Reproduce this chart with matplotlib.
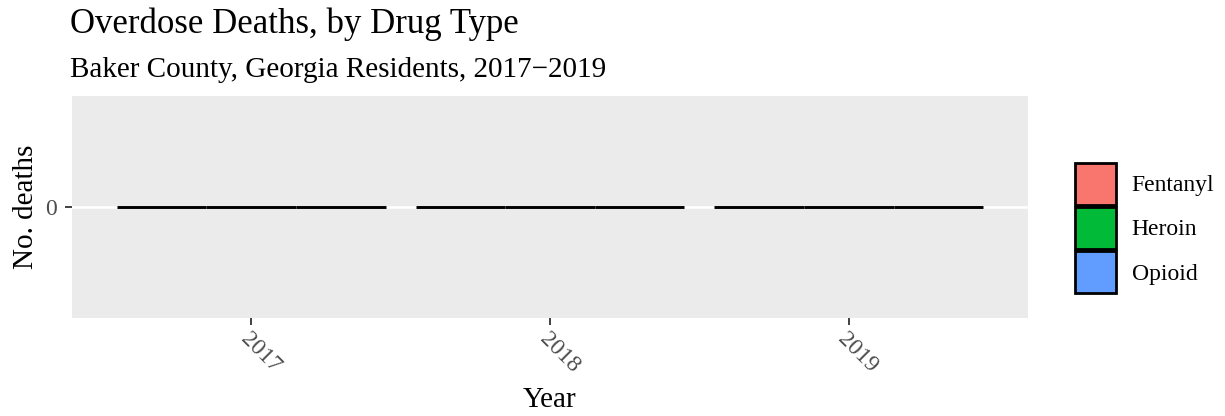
import numpy as np
import matplotlib.pyplot as plt
from matplotlib.patches import Patch, Rectangle
from matplotlib.legend_handler import HandlerPatch

years = ['2017', '2018', '2019']
drugs = ['Fentanyl', 'Heroin', 'Opioid']
colors = ['#F8766D', '#00BA38', '#619CFF']
deaths = {
    'Fentanyl': [0, 0, 0],
    'Heroin': [0, 0, 0],
    'Opioid': [0, 0, 0],
}

plt.rcParams['font.family'] = ['Liberation Serif', 'DejaVu Serif']

fig = plt.figure(figsize=(12.25, 4.16), dpi=100)
ax = fig.add_axes([72 / 1225, 98 / 416, 956 / 1225, 222 / 416])
ax.set_facecolor('#EBEBEB')

x = np.arange(1, len(years) + 1)
w = 0.3
for i, d in enumerate(drugs):
    ax.bar(x + (i - 1) * w, deaths[d], width=w, color=colors[i],
           edgecolor='black', linewidth=2.1, zorder=3)

ax.set_xlim(0.4, 3.6)
ax.set_ylim(-0.05, 0.05)
ax.set_xticks(x)
ax.set_xticklabels(years, rotation=-45, ha='left', va='top', rotation_mode='anchor',
                   fontsize=17, color='#4D4D4D')
ax.set_yticks([0])
ax.set_yticklabels(['0'], fontsize=17, color='#4D4D4D')
ax.yaxis.grid(True, color='white', linewidth=1.8, zorder=1)
ax.set_axisbelow(True)
for s in ax.spines.values():
    s.set_visible(False)
ax.tick_params(axis='both', color='#333333', length=5, width=1.3)
ax.tick_params(axis='x', pad=3)
ax.tick_params(axis='y', pad=6)

ax.set_xlabel('Year', fontsize=21, labelpad=7)
ax.set_ylabel('No. deaths', fontsize=21, labelpad=4)

fig.text(70 / 1225, 1 - 33 / 416, 'Overdose Deaths, by Drug Type', fontsize=25, va='baseline')
fig.text(70 / 1225, 1 - 77 / 416, 'Baker County, Georgia Residents, 2017\u22122019', fontsize=21, va='baseline')


# legend keys fill the whole handle box
def key_box(legend, orig_handle, xdescent, ydescent, width, height, fontsize):
    return Rectangle((-xdescent, -ydescent), width, height)


handles = [Patch(facecolor=c, edgecolor='black', linewidth=2.0) for c in colors]
fig.legend(handles, drugs, loc='center left', bbox_to_anchor=(1075 / 1225, 1 - 228 / 416),
           frameon=False, fontsize=17, handlelength=1.75, handleheight=2.36,
           labelspacing=0.1, handletextpad=0.65, borderaxespad=0, borderpad=0,
           handler_map={Patch: HandlerPatch(patch_func=key_box)})

fig.savefig('out.png', dpi=100)
